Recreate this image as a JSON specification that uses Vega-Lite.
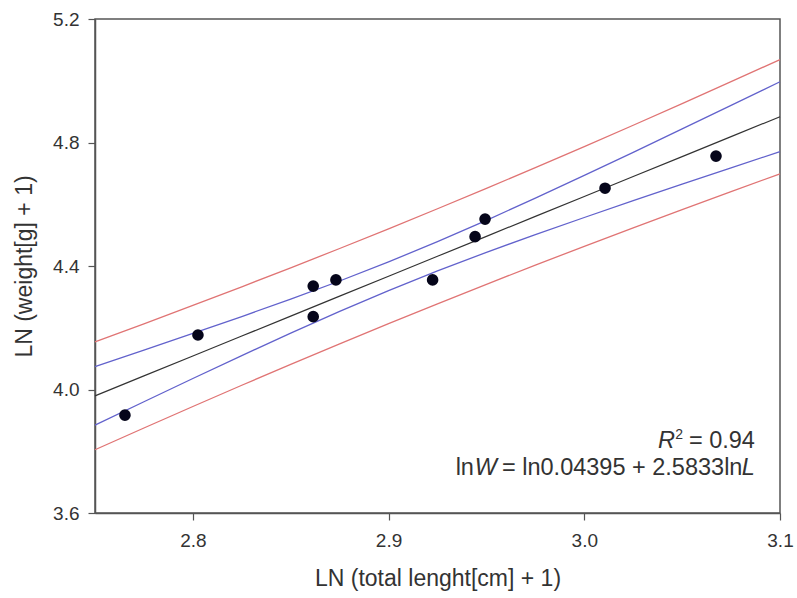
{
  "$schema": "https://vega.github.io/schema/vega-lite/v6.json",
  "width": 685,
  "height": 494,
  "autosize": "none",
  "padding": {"left": 95, "top": 19, "right": 17, "bottom": 85},
  "background": "white",
  "config": {
    "font": "Liberation Sans",
    "view": {"stroke": "#555555", "strokeWidth": 1.5},
    "axis": {
      "grid": false,
      "domainColor": "#555555",
      "domainWidth": 1.5,
      "tickColor": "#555555",
      "tickWidth": 1.2,
      "tickSize": 7,
      "labelFont": "Liberation Sans",
      "labelFontSize": 19,
      "labelColor": "#333333",
      "titleFont": "Liberation Sans",
      "titleFontSize": 23,
      "titleFontWeight": "normal",
      "titleColor": "#333333"
    }
  },
  "datasets": {
    "points": [
      {"x": 2.7653, "y": 3.917},
      {"x": 2.8026, "y": 4.1765},
      {"x": 2.8615, "y": 4.335},
      {"x": 2.8615, "y": 4.236},
      {"x": 2.8731, "y": 4.355},
      {"x": 2.9225, "y": 4.355},
      {"x": 2.9442, "y": 4.495},
      {"x": 2.9493, "y": 4.552},
      {"x": 3.0106, "y": 4.652},
      {"x": 3.0673, "y": 4.756}
    ],
    "curves": [
      {"x": 2.75, "fit": 3.9794, "cu": 4.0744, "cl": 3.8844, "pu": 4.1539, "pl": 3.8049},
      {"x": 2.775, "fit": 4.0440, "cu": 4.1277, "cl": 3.9603, "pu": 4.2126, "pl": 3.8754},
      {"x": 2.8, "fit": 4.1086, "cu": 4.1816, "cl": 4.0356, "pu": 4.2722, "pl": 3.9450},
      {"x": 2.825, "fit": 4.1732, "cu": 4.2364, "cl": 4.1100, "pu": 4.3327, "pl": 4.0137},
      {"x": 2.85, "fit": 4.2377, "cu": 4.2927, "cl": 4.1827, "pu": 4.3941, "pl": 4.0813},
      {"x": 2.875, "fit": 4.3023, "cu": 4.3514, "cl": 4.2532, "pu": 4.4567, "pl": 4.1479},
      {"x": 2.9, "fit": 4.3669, "cu": 4.4133, "cl": 4.3205, "pu": 4.5205, "pl": 4.2133},
      {"x": 2.925, "fit": 4.4315, "cu": 4.4789, "cl": 4.3841, "pu": 4.5854, "pl": 4.2776},
      {"x": 2.95, "fit": 4.4961, "cu": 4.5480, "cl": 4.4442, "pu": 4.6514, "pl": 4.3408},
      {"x": 2.975, "fit": 4.5607, "cu": 4.6198, "cl": 4.5016, "pu": 4.7186, "pl": 4.4028},
      {"x": 3.0, "fit": 4.6252, "cu": 4.6933, "cl": 4.5571, "pu": 4.7867, "pl": 4.4637},
      {"x": 3.025, "fit": 4.6898, "cu": 4.7682, "cl": 4.6114, "pu": 4.8559, "pl": 4.5237},
      {"x": 3.05, "fit": 4.7544, "cu": 4.8439, "cl": 4.6649, "pu": 4.9260, "pl": 4.5828},
      {"x": 3.075, "fit": 4.8190, "cu": 4.9201, "cl": 4.7179, "pu": 4.9969, "pl": 4.6411},
      {"x": 3.1, "fit": 4.8836, "cu": 4.9967, "cl": 4.7705, "pu": 5.0686, "pl": 4.6986}
    ],
    "notes": [
      {"line": 1, "x": 3.0872, "y": 3.8096}
    ],
    "notes2": [
      {"line": 2, "x": 3.0872, "y": 3.723}
    ]
  },
  "layer": [
    {
      "data": {"name": "curves"},
      "mark": {"type": "line", "color": "#e07474", "strokeWidth": 1.3},
      "encoding": {
        "x": {"field": "x", "type": "quantitative", "scale": {"domain": [2.75, 3.1], "nice": false, "zero": false},
          "axis": {"values": [2.8, 2.9, 3.0, 3.1], "format": ".1f", "title": "LN (total lenght[cm] + 1)", "labelPadding": 11, "titlePadding": 17, "labelFlush": false, "labelOverlap": false}},
        "y": {"field": "pu", "type": "quantitative", "scale": {"domain": [3.6, 5.2], "nice": false, "zero": false},
          "axis": {"values": [3.6, 4.0, 4.4, 4.8, 5.2], "format": ".1f", "title": "LN (weight[g] + 1)", "labelPadding": 9, "titlePadding": 16, "labelFlush": false, "labelOverlap": false}}
      }
    },
    {
      "data": {"name": "curves"},
      "mark": {"type": "line", "color": "#e07474", "strokeWidth": 1.3},
      "encoding": {
        "x": {"field": "x", "type": "quantitative"},
        "y": {"field": "pl", "type": "quantitative"}
      }
    },
    {
      "data": {"name": "curves"},
      "mark": {"type": "line", "color": "#6262cc", "strokeWidth": 1.3},
      "encoding": {
        "x": {"field": "x", "type": "quantitative"},
        "y": {"field": "cu", "type": "quantitative"}
      }
    },
    {
      "data": {"name": "curves"},
      "mark": {"type": "line", "color": "#6262cc", "strokeWidth": 1.3},
      "encoding": {
        "x": {"field": "x", "type": "quantitative"},
        "y": {"field": "cl", "type": "quantitative"}
      }
    },
    {
      "data": {"name": "curves"},
      "mark": {"type": "line", "color": "#333333", "strokeWidth": 1.2},
      "encoding": {
        "x": {"field": "x", "type": "quantitative"},
        "y": {"field": "fit", "type": "quantitative"}
      }
    },
    {
      "data": {"name": "points"},
      "mark": {"type": "circle", "color": "#05051a", "opacity": 1, "size": 135},
      "encoding": {
        "x": {"field": "x", "type": "quantitative"},
        "y": {"field": "y", "type": "quantitative"}
      }
    },
    {
      "data": {"name": "notes"},
      "mark": {"type": "text", "text": " = 0.94", "align": "right", "baseline": "alphabetic", "fontSize": 23.5, "color": "#333333", "dx": 0},
      "encoding": {"x": {"field": "x", "type": "quantitative"}, "y": {"field": "y", "type": "quantitative"}}
    },
    {
      "data": {"name": "notes"},
      "mark": {"type": "text", "text": "2", "align": "right", "baseline": "alphabetic", "fontSize": 14, "color": "#333333", "dx": -72, "dy": -9},
      "encoding": {"x": {"field": "x", "type": "quantitative"}, "y": {"field": "y", "type": "quantitative"}}
    },
    {
      "data": {"name": "notes"},
      "mark": {"type": "text", "text": "R", "align": "right", "baseline": "alphabetic", "fontSize": 23.5, "fontStyle": "italic", "color": "#333333", "dx": -80},
      "encoding": {"x": {"field": "x", "type": "quantitative"}, "y": {"field": "y", "type": "quantitative"}}
    },
    {
      "data": {"name": "notes2"},
      "mark": {"type": "text", "text": "L", "align": "right", "baseline": "alphabetic", "fontSize": 23.5, "fontStyle": "italic", "color": "#333333", "dx": 0},
      "encoding": {"x": {"field": "x", "type": "quantitative"}, "y": {"field": "y", "type": "quantitative"}}
    },
    {
      "data": {"name": "notes2"},
      "mark": {"type": "text", "text": " = ln0.04395 + 2.5833ln", "align": "right", "baseline": "alphabetic", "fontSize": 23.5, "color": "#333333", "dx": -12.5},
      "encoding": {"x": {"field": "x", "type": "quantitative"}, "y": {"field": "y", "type": "quantitative"}}
    },
    {
      "data": {"name": "notes2"},
      "mark": {"type": "text", "text": "W", "align": "right", "baseline": "alphabetic", "fontSize": 23.5, "fontStyle": "italic", "color": "#333333", "dx": -258},
      "encoding": {"x": {"field": "x", "type": "quantitative"}, "y": {"field": "y", "type": "quantitative"}}
    },
    {
      "data": {"name": "notes2"},
      "mark": {"type": "text", "text": "ln", "align": "right", "baseline": "alphabetic", "fontSize": 23.5, "color": "#333333", "dx": -281},
      "encoding": {"x": {"field": "x", "type": "quantitative"}, "y": {"field": "y", "type": "quantitative"}}
    }
  ]
}
